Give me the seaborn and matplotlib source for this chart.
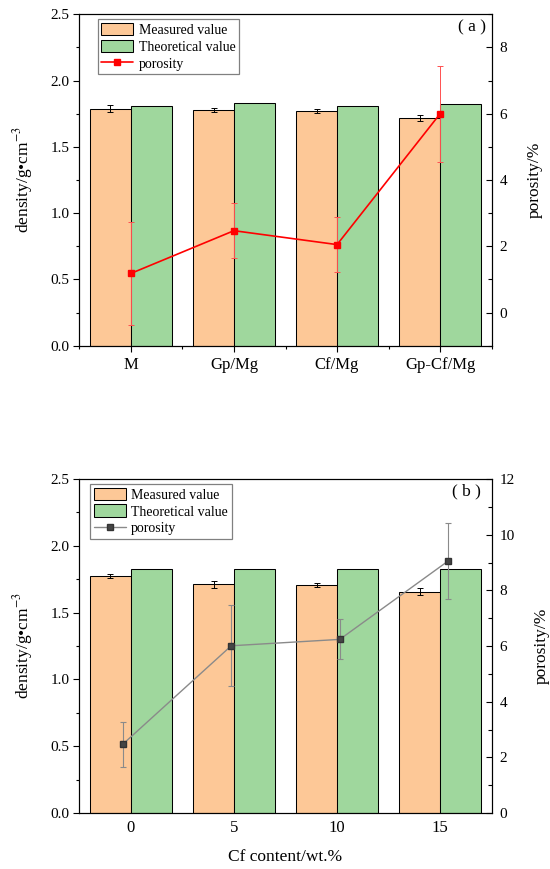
import numpy as np
import pandas as pd
import matplotlib
matplotlib.use('Agg')
import matplotlib.pyplot as plt
from matplotlib.patches import Patch
from matplotlib.lines import Line2D
from matplotlib.ticker import MultipleLocator, FixedLocator
import seaborn as sns

# panel (a): composites
samples_a = ['M', 'Gp/Mg', 'Cf/Mg', 'Gp-Cf/Mg']
measured_a = [1.788, 1.780, 1.771, 1.717]
measured_a_err = [0.026, 0.015, 0.015, 0.025]
theory_a = [1.806, 1.828, 1.809, 1.826]
poro_a = [1.18, 2.47, 2.05, 6.00]
poro_a_err = [1.56, 0.83, 0.84, 1.45]

# panel (b): Cf content series
cf_content = [0, 5, 10, 15]
measured_b = [1.777, 1.714, 1.707, 1.657]
measured_b_err = [0.015, 0.026, 0.013, 0.026]
theory_b = [1.827, 1.827, 1.827, 1.827]
poro_b = [2.47, 6.01, 6.24, 9.06]
poro_b_err = [0.81, 1.45, 0.72, 1.36]

series = ['Measured value', 'Theoretical value']
ORANGE = '#FDC897'
GREEN = '#9FD79D'

sns.set_style('ticks', {'axes.edgecolor': 'black', 'xtick.color': 'black',
                        'ytick.color': 'black', 'text.color': 'black',
                        'axes.labelcolor': 'black'})
plt.rcParams['font.family'] = ['Liberation Serif', 'Noto Sans CJK SC', 'DejaVu Sans']
plt.rcParams['mathtext.fontset'] = 'stix'
plt.rcParams['axes.linewidth'] = 0.8


def draw_bars(ax, cats, meas, meas_err, theo):
    df = pd.DataFrame({
        'sample': list(cats) * 2,
        'type': [series[0]] * len(cats) + [series[1]] * len(cats),
        'density': list(meas) + list(theo),
    })
    sns.barplot(data=df, x='sample', y='density', hue='type', order=cats,
                hue_order=series, palette=[ORANGE, GREEN], saturation=1,
                width=0.79, edgecolor='black', linewidth=0.75,
                errorbar=None, legend=False, ax=ax)
    bars = ax.containers[0]
    xs = [p.get_x() + p.get_width() / 2 for p in bars]
    ax.errorbar(xs, meas, yerr=meas_err, fmt='none', ecolor='black',
                elinewidth=0.7, capsize=2.5, capthick=0.7, zorder=5)
    ax.set_ylim(0, 2.5)
    ax.set_xlim(-0.5, len(cats) - 0.5)
    ax.yaxis.set_major_locator(MultipleLocator(0.5))
    ax.yaxis.set_minor_locator(MultipleLocator(0.25))
    ax.tick_params(axis='y', which='major', direction='out', length=4.3,
                   width=0.8, pad=2.9, labelsize=11)
    ax.tick_params(axis='y', which='minor', direction='out', length=2.4, width=0.8)
    ax.set_ylabel('density/g•cm$^{-3}$', fontsize=12.5, labelpad=11)
    ax.set_xlabel('')


def style_right(ax2, step):
    ax2.yaxis.set_major_locator(MultipleLocator(step))
    ax2.yaxis.set_minor_locator(MultipleLocator(step / 2))
    ax2.tick_params(axis='y', which='major', direction='in', length=4.3,
                    width=0.8, pad=5.5, labelsize=11)
    ax2.tick_params(axis='y', which='minor', direction='in', length=3.1, width=0.8)
    ax2.set_ylabel('porosity/%', fontsize=12.5, labelpad=14)


def make_legend(ax, x0, line_kw):
    handles = [Patch(facecolor=ORANGE, edgecolor='black', linewidth=0.75),
               Patch(facecolor=GREEN, edgecolor='black', linewidth=0.75),
               Line2D([], [], **line_kw)]
    leg = ax.legend(handles, series + ['porosity'], loc='upper left',
                    bbox_to_anchor=(x0, 0.985), borderaxespad=0, fontsize=10,
                    handlelength=2.3, handleheight=1.03, handletextpad=0.4,
                    labelspacing=0.2, borderpad=0.25, fancybox=False,
                    framealpha=1, edgecolor='#808080')
    leg.get_frame().set_linewidth(0.9)
    leg.set_zorder(20)


fig = plt.figure(figsize=(5.5, 8.69), dpi=100)

# ---------- panel (a) ----------
ax_a = fig.add_axes([0.1442, 0.6022, 0.7498, 0.3814])
draw_bars(ax_a, samples_a, measured_a, measured_a_err, theory_a)
ax_a.xaxis.set_minor_locator(FixedLocator(np.arange(-0.5, len(samples_a), 1.0)))
ax_a.tick_params(axis='x', which='major', direction='out', length=4.3,
                 width=0.8, pad=3.5, labelsize=12)
ax_a.tick_params(axis='x', which='minor', direction='out', length=2.0, width=0.8)

ax_a2 = ax_a.twinx()
red_kw = dict(color='red', linewidth=1.2, marker='s', markersize=5,
              markerfacecolor='red', markeredgecolor='red')
ax_a2.errorbar(np.arange(len(samples_a)), poro_a, yerr=poro_a_err,
               ecolor='#FF5050', elinewidth=0.7, capsize=2.2, capthick=0.7,
               zorder=6, **red_kw)
ax_a2.set_ylim(-1, 9)
style_right(ax_a2, 2)
ax_a2.text(0.953, 0.959, '( a )', transform=ax_a2.transAxes, fontsize=12.5,
           ha='center', va='center')
make_legend(ax_a2, 0.0446, red_kw)

# ---------- panel (b) ----------
cf_labels = [str(c) for c in cf_content]
ax_b = fig.add_axes([0.1442, 0.0644, 0.7498, 0.3843])
draw_bars(ax_b, cf_labels, measured_b, measured_b_err, theory_b)
ax_b.tick_params(axis='x', which='both', length=0, pad=4.7, labelsize=12)
ax_b.set_xlabel('Cf content/wt.%', fontsize=12.5, labelpad=9.6)

ax_b2 = ax_b.twinx()
ax_b2.set_ylim(0, 12)
style_right(ax_b2, 2)

# porosity drawn against the numeric Cf content on its own x scale
ax_b3 = ax_b2.twiny()
ax_b3.set_xlim(-2, 17)
ax_b3.xaxis.set_visible(False)
for sp in ax_b3.spines.values():
    sp.set_visible(False)
gray_kw = dict(color='#8A8A8A', linewidth=1.0, marker='s', markersize=5,
               markerfacecolor='#454545', markeredgecolor='#333333')
ax_b3.errorbar(cf_content, poro_b, yerr=poro_b_err, ecolor='#8A8A8A',
               elinewidth=0.8, capsize=2.2, capthick=0.8, zorder=6, **gray_kw)
ax_b3.text(0.938, 0.962, '( b )', transform=ax_b3.transAxes, fontsize=12.5,
           ha='center', va='center')
make_legend(ax_b3, 0.0267, gray_kw)

fig.savefig('out.png', dpi=100)
plt.close(fig)
